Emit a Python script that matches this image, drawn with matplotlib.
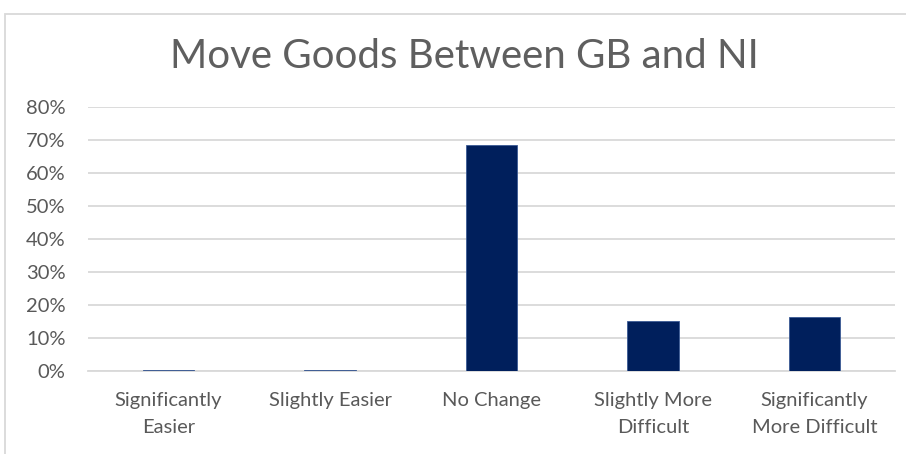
import matplotlib.pyplot as plt
import matplotlib.patches as patches
from matplotlib.ticker import FuncFormatter

# survey responses
categories = ["Significantly\nEasier", "Slightly Easier", "No Change",
              "Slightly More\nDifficult", "Significantly\nMore Difficult"]
shares = [0.3, 0.2, 68.5, 15.2, 16.4]
yticks = [0, 10, 20, 30, 40, 50, 60, 70, 80]

plt.rcParams['font.family'] = ['Lato', 'DejaVu Sans']

fig = plt.figure(figsize=(9.06, 4.54), dpi=100)
ax = fig.add_axes([0.097, 0.183, 0.891, 0.581])

ax.bar(range(len(categories)), shares, width=0.32, color="#001f5c",
       edgecolor="#3a5a95", linewidth=0.6, zorder=3)

ax.set_xlim(-0.5, len(categories) - 0.5)
ax.set_ylim(0, 80)
ax.set_yticks(yticks)
ax.yaxis.set_major_formatter(FuncFormatter(lambda v, p: f"{v:.0f}%"))
ax.set_xticks(range(len(categories)))
ax.set_xticklabels(categories, fontsize=14.5, color="#595959", linespacing=1.7)
ax.tick_params(axis="y", labelsize=14.5, labelcolor="#595959", length=0, pad=16)
ax.tick_params(axis="x", length=0, pad=15)

ax.grid(axis="y", color="#d9d9d9", linewidth=1.3, zorder=0)
for side in ["top", "right", "left"]:
    ax.spines[side].set_visible(False)
ax.spines["bottom"].set_color("#d9d9d9")
ax.spines["bottom"].set_linewidth(1.3)

fig.text(0.513, 0.875, "Move Goods Between GB and NI", ha="center", va="center",
         fontsize=29, color="#5f5f5f")

# chart frame
fig.patches.append(patches.Rectangle((0.005, -0.1), 1.2, 1.07, transform=fig.transFigure,
                                     fill=False, edgecolor="#d9d9d9", linewidth=1.3))

fig.savefig("out.png", dpi=100)
